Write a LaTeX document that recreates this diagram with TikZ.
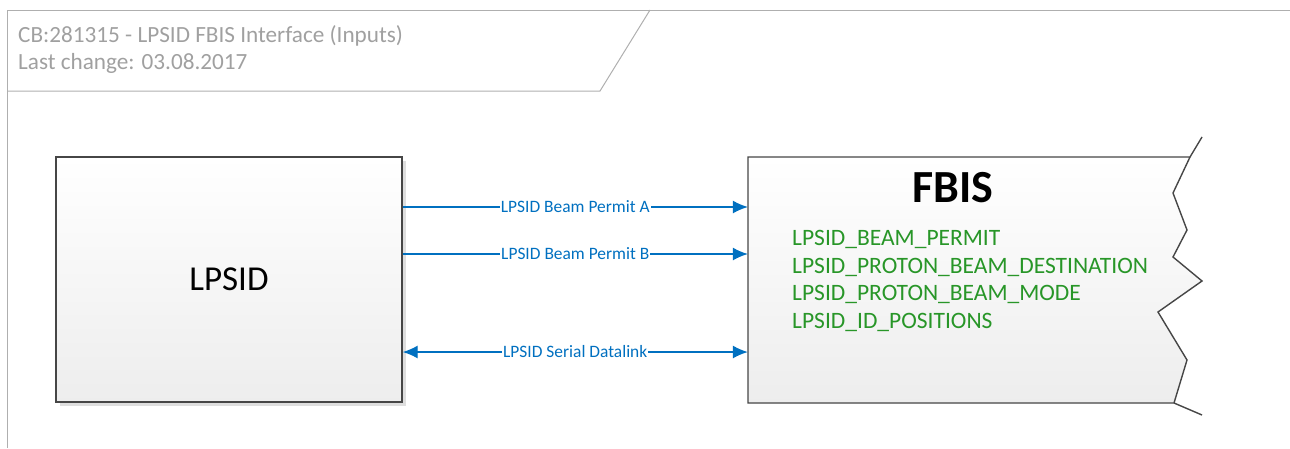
\documentclass[tikz,border=0pt]{standalone}
\usepackage{fontspec}
\setmainfont{Carlito}
\usetikzlibrary{arrows.meta}
\definecolor{linkblue}{RGB}{0,112,192}
\definecolor{signalgreen}{RGB}{40,150,40}
\definecolor{framegray}{RGB}{175,175,175}
\definecolor{headergray}{RGB}{160,160,160}
\definecolor{boxgray}{RGB}{70,70,70}
\tikzset{
  frame/.style={draw=framegray, line width=1pt},
  header/.style={anchor=base west, inner sep=0pt, text=headergray, font=\fontsize{23.2}{27}\selectfont},
  block/.style={draw=boxgray, line width=1.4pt, top color=white, bottom color=black!7, inner sep=0pt},
  shadowfill/.style={fill=black!13},
  link/.style={draw=linkblue, line width=1.3pt, -{Latex[length=15pt,width=13pt]}},
  linklabel/.style={fill=white, inner sep=1pt, text=linkblue, font=\fontsize{17.4}{20}\selectfont},
  signal/.style={anchor=base west, inner sep=0pt, text=signalgreen, font=\fontsize{23.5}{27}\selectfont},
}
\begin{document}
\begin{tikzpicture}[x=1pt,y=-1pt]
  \useasboundingbox (0,0) rectangle (1290,448);
  % Coordinates
  \coordinate (T1) at (7,448);
  \coordinate (T2) at (7,10);
  \coordinate (T3) at (1290,10);
  \coordinate (H1) at (7,91);
  \coordinate (H2) at (600,91);
  \coordinate (H3) at (650,10);
  \coordinate (F1) at (748,157);
  \coordinate (F2) at (748,403);
  \coordinate (Z0) at (1202,137);
  \coordinate (Z1) at (1190,157);
  \coordinate (Z2) at (1173,193);
  \coordinate (Z3) at (1187,230);
  \coordinate (Z4) at (1173,257);
  \coordinate (Z5) at (1202,281);
  \coordinate (Z6) at (1158,312);
  \coordinate (Z7) at (1187,360);
  \coordinate (Z8) at (1174,403);
  \coordinate (Z9) at (1202,415);
  \coordinate (yA) at (0,207);
  \coordinate (yB) at (0,254);
  \coordinate (yC) at (0,352);

  % Frame
  \draw[frame] (T1) -- (T2) -- (T3);
  \draw[frame] (H1) -- (H2) -- (H3);
  \node[header] (title) at (18,42) {CB:281315 - LPSID FBIS Interface (Inputs)};
  \node[header] (date) at (18,69) {Last change: 03.08.2017};

  % LPSID
  \fill[shadowfill] (60,161) rectangle (406,406);
  \node[block, minimum width=346, minimum height=245,
        font=\fontsize{35}{41}\selectfont] (lpsid) at (229,279.5) {LPSID};

  % FBIS
  \fill[shadowfill, shift={(4,4)}] (F1) -- (Z1) -- (Z2) -- (Z3) -- (Z4) -- (Z5)
    -- (Z6) -- (Z7) -- (Z8) -- (F2) -- cycle;
  \path[block] (F1) -- (Z1) -- (Z2) -- (Z3) -- (Z4) -- (Z5)
    -- (Z6) -- (Z7) -- (Z8) -- (F2) -- cycle;
  \draw[boxgray, line width=1.4pt] (Z0) -- (Z1);
  \draw[boxgray, line width=1.4pt] (Z8) -- (Z9);
  \node[minimum width=426, minimum height=246, inner sep=0pt] (fbis) at (961,280) {};
  \node[font=\fontsize{46}{52}\selectfont\bfseries] (fbistitle) at (953,188) {FBIS};
  \node[signal] (sig1) at (792,245) {LPSID\_BEAM\_PERMIT};
  \node[signal] (sig2) at (792,273) {LPSID\_PROTON\_BEAM\_DESTINATION};
  \node[signal] (sig3) at (792,300) {LPSID\_PROTON\_BEAM\_MODE};
  \node[signal] (sig4) at (792,328) {LPSID\_ID\_POSITIONS};

  % Links
  \draw[link] (lpsid.east |- yA) -- node[linklabel] {LPSID Beam Permit A} (fbis.west |- yA);
  \draw[link] (lpsid.east |- yB) -- node[linklabel] {LPSID Beam Permit B} (fbis.west |- yB);
  \draw[link, {Latex[length=15pt,width=13pt]}-{Latex[length=15pt,width=13pt]}]
    (lpsid.east |- yC) -- node[linklabel] {LPSID Serial Datalink} (fbis.west |- yC);
\end{tikzpicture}
\end{document}
